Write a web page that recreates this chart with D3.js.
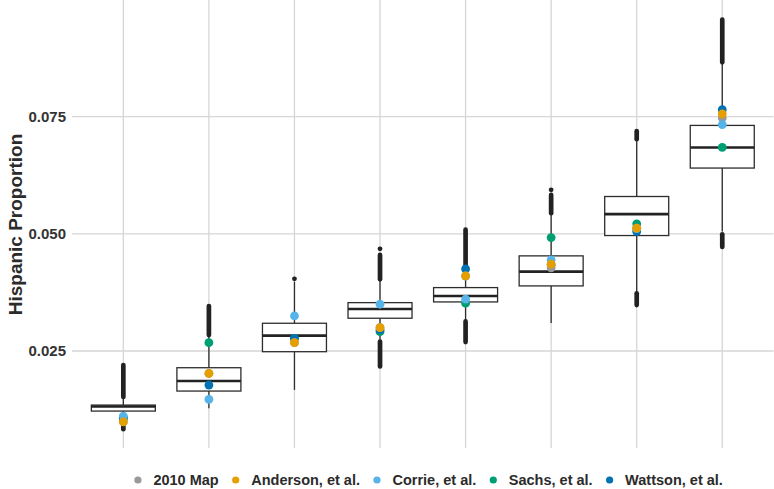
<!DOCTYPE html>
<html>
<head>
<meta charset="utf-8">
<script src="https://cdn.jsdelivr.net/npm/d3@7"></script>
<style>
  body { margin: 0; background: #fff; }
  svg { display: block; }
  text { font-family: "Liberation Sans", Arial, Helvetica, sans-serif; font-weight: bold; }
</style>
</head>
<body>
<svg id="chart" width="774" height="489"></svg>
<script>
// Simulated district groups, ordered by Hispanic share
const categories = ["1", "2", "3", "4", "5", "6", "7", "8"];

// Box summaries for the simulated plans
const whiskerLow  = [0.0115, 0.0128, 0.0167, 0.0274, 0.0314, 0.0310, 0.0374, 0.0505];
const q1          = [0.01218, 0.01645, 0.02485, 0.03199, 0.03547, 0.03889, 0.04964, 0.06404];
const median      = [0.01314, 0.01859, 0.02827, 0.03397, 0.03675, 0.04194, 0.05421, 0.06844];
const q3          = [0.01346, 0.02143, 0.03092, 0.03532, 0.03853, 0.04530, 0.05797, 0.07314];
const whiskerHigh = [0.0150, 0.0283, 0.0398, 0.0402, 0.0418, 0.0540, 0.0700, 0.0863];

// Dense runs of outliers above and below the whiskers: [from, to]
const outlierRunsHigh = [[0.0152, 0.0220], [0.0284, 0.0346], null, [0.0403, 0.0455],
                         [0.0420, 0.0509], [0.0544, 0.0583], [0.0702, 0.0719], [0.0866, 0.0957]];
const outlierRunsLow  = [[0.0083, 0.0107], null, null, [0.0217, 0.0270],
                         [0.0269, 0.0313], null, [0.0348, 0.0373], [0.0472, 0.0499]];
// Isolated outliers
const outlierSingles  = [[], [], [0.0404], [0.0468], [], [0.0594], [], []];

// Enacted / proposed plans
const planNames = ["2010 Map", "Anderson, et al.", "Corrie, et al.", "Sachs, et al.", "Wattson, et al."];
const planColors = ["#999999", "#E69F00", "#56B4E9", "#009E73", "#0072B2"];
const map2010  = [0.0099, 0.0202, 0.0268, 0.0300, 0.0410, 0.04274, 0.0512, 0.07472];
const anderson = [0.00989, 0.02024, 0.02677, 0.02998, 0.04103, 0.04353, 0.05122, 0.07558];
const corrie   = [0.01111, 0.01468, 0.03248, 0.03498, 0.03605, 0.04444, 0.0511, 0.07329];
const sachs    = [0.0108, 0.02677, 0.02771, 0.02912, 0.03519, 0.04921, 0.05214, 0.06844];
const wattson  = [0.0106, 0.01774, 0.02771, 0.02949, 0.04252, 0.0434, 0.05049, 0.07650];

const yTicks = [0.025, 0.050, 0.075];
const yTitle = "Hispanic Proportion";

const svg = d3.select("#chart");
const panel = { left: 72, right: 773.6, top: 0, bottom: 448 };

const x = d3.scalePoint().domain(categories).range([panel.left, panel.right]).padding(0.6);
const y = d3.scaleLinear().domain([0.004, 0.1]).range([449.4, -0.45]);
const boxW = 64;

// grid
const grid = svg.append("g").attr("stroke", "#d6d6d6").attr("stroke-width", 1.3);
grid.selectAll(".h").data(yTicks).join("line")
  .attr("x1", panel.left).attr("x2", panel.right)
  .attr("y1", d => y(d)).attr("y2", d => y(d));
grid.selectAll(".v").data(categories).join("line")
  .attr("x1", d => x(d)).attr("x2", d => x(d))
  .attr("y1", panel.top).attr("y2", panel.bottom);

// y axis labels
const yAxis = d3.axisLeft(y).tickValues(yTicks).tickFormat(d3.format(".3f")).tickSize(0).tickPadding(0);
const ga = svg.append("g").attr("transform", `translate(66,0)`).call(yAxis);
ga.select(".domain").remove();
ga.selectAll("text").attr("font-size", 15).attr("fill", "#333")
  .attr("font-family", "Liberation Sans, Arial, sans-serif").attr("font-weight", "bold");

svg.append("text")
  .attr("transform", "translate(22,224.5) rotate(-90)")
  .attr("text-anchor", "middle").attr("font-size", 19).attr("fill", "#2b2b2b")
  .text(yTitle);

// boxplots
const rows = categories.map((c, i) => ({
  c, lo: whiskerLow[i], q1: q1[i], med: median[i], q3: q3[i], hi: whiskerHigh[i],
  runHi: outlierRunsHigh[i], runLo: outlierRunsLow[i], singles: outlierSingles[i]
}));
const boxes = svg.append("g").selectAll("g").data(rows).join("g");
const ink = "#2d2d2d";

boxes.append("line").attr("stroke", ink).attr("stroke-width", 1.3)
  .attr("x1", d => x(d.c)).attr("x2", d => x(d.c))
  .attr("y1", d => y(d.q3)).attr("y2", d => y(d.hi));
boxes.append("line").attr("stroke", ink).attr("stroke-width", 1.3)
  .attr("x1", d => x(d.c)).attr("x2", d => x(d.c))
  .attr("y1", d => y(d.q1)).attr("y2", d => y(d.lo));

boxes.each(function(d) {
  const g = d3.select(this);
  [d.runHi, d.runLo].filter(r => r).forEach(r => {
    g.append("line").attr("stroke", "#222").attr("stroke-width", 4.7).attr("stroke-linecap", "round")
      .attr("x1", x(d.c)).attr("x2", x(d.c)).attr("y1", y(r[0])).attr("y2", y(r[1]));
  });
  d.singles.forEach(v => {
    g.append("circle").attr("fill", "#222").attr("r", 2.4).attr("cx", x(d.c)).attr("cy", y(v));
  });
});

boxes.append("rect").attr("fill", "#fff").attr("stroke", ink).attr("stroke-width", 1.3)
  .attr("x", d => x(d.c) - boxW / 2).attr("width", boxW)
  .attr("y", d => y(d.q3)).attr("height", d => y(d.q1) - y(d.q3));
boxes.append("line").attr("stroke", "#222").attr("stroke-width", 2.6)
  .attr("x1", d => x(d.c) - boxW / 2).attr("x2", d => x(d.c) + boxW / 2)
  .attr("y1", d => y(d.med)).attr("y2", d => y(d.med));

// plan points, drawn so that later series sit on top
const planValues = [map2010, anderson, corrie, sachs, wattson];
const drawOrder = [3, 4, 0, 2, 1];
const pts = svg.append("g");
drawOrder.forEach(k => {
  pts.append("g").selectAll("circle").data(planValues[k]).join("circle")
    .attr("cx", (v, i) => x(categories[i])).attr("cy", v => y(v))
    .attr("r", 4.4).attr("fill", planColors[k]);
});

// legend
const leg = svg.append("g");
let cx = 0;
const items = planNames.map((name, k) => {
  const g = leg.append("g");
  g.append("circle").attr("r", 3.6).attr("cx", 0).attr("cy", 0).attr("fill", planColors[k]);
  const t = g.append("text").attr("x", 15.5).attr("dy", "0.35em").attr("font-size", 14.5)
    .attr("fill", "#2b2b2b").text(name);
  const w = 15.5 + t.node().getComputedTextLength();
  g.attr("transform", `translate(${cx},480)`);
  cx += w + 17;
  return g;
});
const totalW = cx - 17;
leg.attr("transform", `translate(${137.9},0)`);
</script>
</body>
</html>
